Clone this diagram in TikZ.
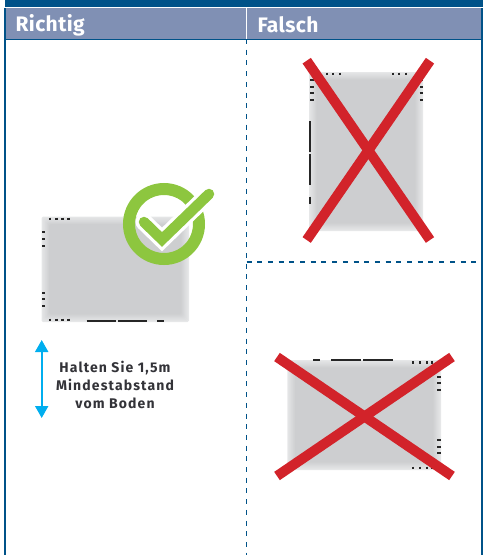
\documentclass[tikz,border=0pt]{standalone}
\usepackage{fontspec}
\setmainfont{Fira Sans}
\usetikzlibrary{arrows.meta}
\definecolor{barblue}{HTML}{005288}
\definecolor{headblue}{HTML}{8090B4}
\definecolor{okgreen}{HTML}{8DC63F}
\definecolor{nored}{HTML}{D2232A}
\definecolor{arrowblue}{HTML}{00AEEF}
\definecolor{textgrey}{HTML}{333338}
\definecolor{devedge}{HTML}{E6E7E8}
\definecolor{devgrey}{HTML}{CDCED0}
\tikzset{
  headlabel/.style={anchor=west, text=white, font=\fontsize{21}{23}\bfseries\addfontfeature{LetterSpace=2}\selectfont},
  divider/.style={barblue, line width=1.3pt, dash pattern=on 5pt off 5.7pt},
  cross/.style={nored, line width=10pt},
  pin/.style={black!85, line width=2.2pt},
  trace/.style={black!85, line width=1.8pt},
}
% blurred grey body of a device: corners, then nested rectangles
\newcommand{\devbody}[4]{%
  \foreach \i in {0,...,7}{
    \pgfmathsetmacro{\d}{\i*1.1}
    \pgfmathsetmacro{\m}{\i*100/7}
    \fill[devgrey!\m!devedge, rounded corners=1.5pt] (#1+\d,#2+\d) rectangle (#3-\d,#4-\d);
  }
}
\begin{document}
\begin{tikzpicture}[x=1pt, y=-1pt]
  \useasboundingbox (0,0) rectangle (487,555);
  \fill[barblue] (4.5,0) rectangle (483,6.5);
  \fill[headblue] (5,8) rectangle (482,38.5);
  \draw[white, line width=1pt] (246.5,8) -- (246.5,38.5);
  \draw[barblue, line width=1pt] (5,39) -- (482,39);
  \draw[barblue, line width=1.5pt] (5,8) -- (5,555);
  \draw[barblue, line width=1.5pt] (482,8) -- (482,555);
  \draw[divider] (246.5,39) -- (246.5,555);
  \draw[divider] (246.5,262) -- (482,262);
  \node[headlabel] (richtig) at (12,25) {Richtig};
  \node[headlabel] (falsch) at (254,25) {Falsch};

  \devbody{41.5}{216.5}{189}{322}
  \foreach \x in {50,56.5,62.5,68.5}{
    \draw[pin] (\x,217.5) -- (\x,220);
    \draw[pin] (\x,318.5) -- (\x,321);
  }
  \foreach \y in {232.3,239,245.7,292.7,299.3,306}
    \draw[pin] (42,\y) -- (45,\y);
  \foreach \a/\b in {86.7/116,118.3/147,157.3/164}
    \draw[trace] (\a,321.3) -- (\b,321.3);
  \draw[okgreen, line width=12pt] (164,224) circle (35);
  \draw[white, line width=17pt, line cap=round, line join=miter] (144,222) -- (162,239.5) -- (209,194);
  \draw[okgreen, line width=10.5pt, line cap=round, line join=miter] (144,222) -- (162,239.5) -- (209,194);

  \coordinate (armtop) at (41.7,340);
  \coordinate (armbot) at (41.7,418);
  \draw[arrowblue, line width=2pt, {Triangle[length=12pt,width=13pt]}-{Triangle[length=12pt,width=13pt]}] (armtop) -- (armbot);
  \node[text=textgrey, align=center, font=\fontsize{14}{18}\bfseries\addfontfeature{LetterSpace=8}\selectfont] (abstand) at (115,385) {Halten Sie 1,5m\\Mindestabstand\\vom Boden};

  \devbody{309}{72}{423}{231}
  \foreach \x in {326.7,333.3,340,392.7,399.3,406}
    \draw[pin] (\x,72.5) -- (\x,75);
  \foreach \y in {80,86.7,93.3,100}{
    \draw[pin] (310,\y) -- (313.5,\y);
    \draw[pin] (419.5,\y) -- (423,\y);
  }
  \foreach \a/\b in {121/151.7,154/185,196.7/204}
    \draw[trace] (310,\a) -- (310,\b);
  \draw[cross] (306.7,60.7) -- (430,240);
  \draw[cross] (430,60.7) -- (306.7,240);

  \devbody{287.3}{360}{441}{470}
  \foreach \a/\b in {313.3/320,331/361,363.3/393}
    \draw[trace] (\a,360.3) -- (\b,360.3);
  \foreach \x in {413.3,420,426.7,432.3}{
    \draw[pin] (\x,361) -- (\x,363.5);
    \draw[pin] (\x,466.5) -- (\x,469);
  }
  \foreach \y in {376.7,383.3,390,440,446.7,453.3}
    \draw[pin] (437,\y) -- (440.5,\y);
  \draw[cross] (277,357) -- (452,476);
  \draw[cross] (452,357) -- (277,476);
\end{tikzpicture}
\end{document}
